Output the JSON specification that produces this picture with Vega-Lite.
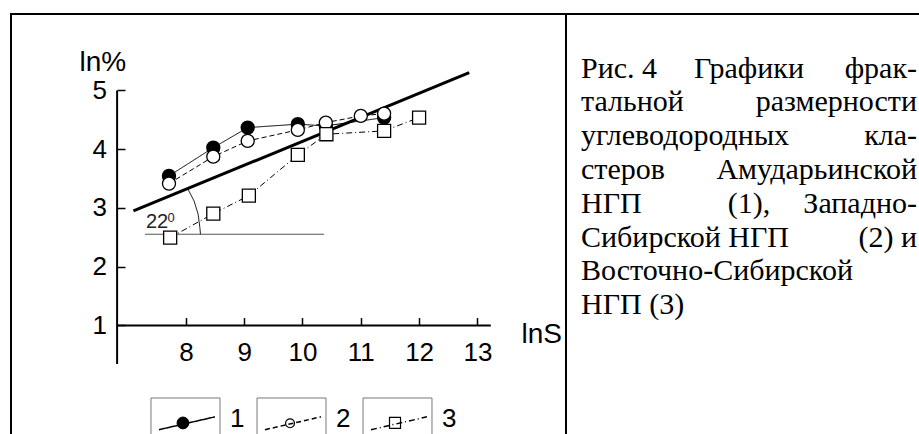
{
  "$schema": "https://vega.github.io/schema/vega-lite/v6.json",
  "padding": {"left": 10, "top": 13, "right": 0, "bottom": 0},
  "spacing": 0,
  "bounds": "flush",
  "background": "white",
  "config": {
    "font": "Liberation Sans",
    "view": {"stroke": "black", "strokeWidth": 2},
    "axis": {"labelColor": "black", "titleColor": "black", "tickColor": "black", "grid": false, "domain": false, "labelFont": "Liberation Sans", "titleFont": "Liberation Sans", "titleFontWeight": "normal"}
  },
  "datasets": {
    "obs": [
      {"series": "1", "x": 7.71, "y": 3.545}, {"series": "1", "x": 8.47, "y": 4.026}, {"series": "1", "x": 9.06, "y": 4.367},
      {"series": "1", "x": 9.92, "y": 4.425}, {"series": "1", "x": 10.40, "y": 4.396}, {"series": "1", "x": 11.40, "y": 4.537},
      {"series": "2", "x": 7.71, "y": 3.414}, {"series": "2", "x": 8.47, "y": 3.873}, {"series": "2", "x": 9.06, "y": 4.140},
      {"series": "2", "x": 9.92, "y": 4.328}, {"series": "2", "x": 10.40, "y": 4.452}, {"series": "2", "x": 11.00, "y": 4.566},
      {"series": "2", "x": 11.40, "y": 4.605},
      {"series": "3", "x": 7.73, "y": 2.494}, {"series": "3", "x": 8.47, "y": 2.903}, {"series": "3", "x": 9.08, "y": 3.209},
      {"series": "3", "x": 9.92, "y": 3.902}, {"series": "3", "x": 10.41, "y": 4.254}, {"series": "3", "x": 11.40, "y": 4.311},
      {"series": "3", "x": 12.00, "y": 4.537}
    ],
    "fit": [{"x": 7.10, "y": 2.949}, {"x": 12.86, "y": 5.303}],
    "arc": [{"x": 8.03, "y": 3.33}, {"x": 8.14, "y": 3.119}, {"x": 8.21, "y": 2.893}, {"x": 8.24, "y": 2.665}, {"x": 8.25, "y": 2.552}],
    "caption": [
      {"line": 1, "part": "start", "text": "Рис. 4"}, {"line": 1, "part": "middle", "text": "Графики"}, {"line": 1, "part": "end", "text": "фрак-"},
      {"line": 2, "part": "start", "text": "тальной"}, {"line": 2, "part": "end", "text": "размерности"},
      {"line": 3, "part": "start", "text": "углеводородных"}, {"line": 3, "part": "end", "text": "кла-"},
      {"line": 4, "part": "start", "text": "стеров"}, {"line": 4, "part": "end", "text": "Амударьинской"},
      {"line": 5, "part": "start", "text": "НГП"}, {"line": 5, "part": "middle", "text": "(1),"}, {"line": 5, "part": "end", "text": "Западно-"},
      {"line": 6, "part": "start", "text": "Сибирской НГП"}, {"line": 6, "part": "end", "text": "(2) и"},
      {"line": 7, "part": "start", "text": "Восточно-Сибирской"},
      {"line": 8, "part": "start", "text": "НГП (3)"}
    ]
  },
  "hconcat": [
    {
      "width": 555,
      "height": 429,
      "resolve": {"legend": {"strokeDash": "independent"}},
      "layer": [
        {
          "data": {"values": [{}]},
          "mark": {"type": "rule", "stroke": "black", "strokeWidth": 2},
          "encoding": {
            "x": {"datum": 6.82, "type": "quantitative", "scale": {"domain": [5, 14.52], "nice": false, "zero": false}},
            "y": {"datum": 5, "type": "quantitative", "scale": {"domain": [-1, 6.3], "nice": false, "zero": false}},
            "y2": {"datum": 0.345}
          }
        },
        {
          "data": {"values": [{}]},
          "mark": {"type": "rule", "stroke": "black", "strokeWidth": 2},
          "encoding": {
            "x": {"datum": 6.82, "type": "quantitative", "scale": {"domain": [5, 14.52], "nice": false, "zero": false}},
            "x2": {"datum": 13.23},
            "y": {"datum": 1, "type": "quantitative", "scale": {"domain": [-1, 6.3], "nice": false, "zero": false}}
          }
        },
        {
          "data": {"values": [{}]},
          "mark": {"type": "rule", "stroke": "#555", "strokeWidth": 1},
          "encoding": {
            "x": {"datum": 7.30, "type": "quantitative", "scale": {"domain": [5, 14.52], "nice": false, "zero": false}},
            "x2": {"datum": 10.37},
            "y": {"datum": 2.552, "type": "quantitative", "scale": {"domain": [-1, 6.3], "nice": false, "zero": false}}
          }
        },
        {
          "data": {"name": "arc"},
          "mark": {"type": "line", "stroke": "#222", "strokeWidth": 1},
          "encoding": {
            "x": {"field": "x", "type": "quantitative", "scale": {"domain": [5, 14.52], "nice": false, "zero": false}},
            "y": {"field": "y", "type": "quantitative", "scale": {"domain": [-1, 6.3], "nice": false, "zero": false}}
          }
        },
        {
          "data": {"values": [{}]},
          "mark": {"type": "text", "align": "left", "baseline": "alphabetic", "fontSize": 20, "color": "#222", "font": "Liberation Sans"},
          "encoding": {
            "x": {"datum": 7.314, "type": "quantitative", "scale": {"domain": [5, 14.52], "nice": false, "zero": false}},
            "y": {"datum": 2.665, "type": "quantitative", "scale": {"domain": [-1, 6.3], "nice": false, "zero": false}},
            "text": {"value": "22"}
          }
        },
        {
          "data": {"values": [{}]},
          "mark": {"type": "text", "align": "left", "baseline": "alphabetic", "fontSize": 13, "color": "#222", "font": "Liberation Sans"},
          "encoding": {
            "x": {"datum": 7.686, "type": "quantitative", "scale": {"domain": [5, 14.52], "nice": false, "zero": false}},
            "y": {"datum": 2.767, "type": "quantitative", "scale": {"domain": [-1, 6.3], "nice": false, "zero": false}},
            "text": {"value": "0"}
          }
        },
        {
          "data": {"name": "fit"},
          "mark": {"type": "line", "stroke": "black", "strokeWidth": 3},
          "encoding": {
            "x": {"field": "x", "type": "quantitative", "scale": {"domain": [5, 14.52], "nice": false, "zero": false}},
            "y": {"field": "y", "type": "quantitative", "scale": {"domain": [-1, 6.3], "nice": false, "zero": false}}
          }
        },
        {
          "data": {"name": "obs"},
          "mark": {"type": "line", "stroke": "black", "strokeWidth": 1},
          "encoding": {
            "x": {"field": "x", "type": "quantitative", "scale": {"domain": [5, 14.52], "nice": false, "zero": false}},
            "y": {"field": "y", "type": "quantitative", "scale": {"domain": [-1, 6.3], "nice": false, "zero": false}},
            "strokeDash": {
              "field": "series", "type": "nominal",
              "scale": {"domain": ["1", "2", "3"], "range": [[1, 0], [5, 3], [6, 3, 1, 3]]},
              "legend": {
                "title": null, "orient": "none", "legendX": 140, "legendY": 384, "direction": "horizontal", "zindex": -1,
                "symbolSize": 1521, "symbolStrokeWidth": 1.5, "symbolStrokeColor": "black", "symbolOffset": 14, "labelOffset": 24,
                "labelFontSize": 26, "labelFont": "Liberation Sans", "labelColor": "black", "columnPadding": 12, "padding": 0,
                "symbolType": "M-1.36,0.56L1.51,-0.1"
              }
            }
          }
        },
        {
          "data": {"name": "obs"},
          "mark": {"type": "point", "filled": true, "stroke": "black", "strokeWidth": 1.3, "size": 170, "opacity": 1},
          "encoding": {
            "x": {
              "field": "x", "type": "quantitative",
              "scale": {"domain": [5, 14.52], "nice": false, "zero": false},
              "axis": {"values": [8, 9, 10, 11, 12, 13], "format": "d", "offset": -117.5, "tickSize": -8, "tickWidth": 1.5, "labelFontSize": 26, "labelPadding": 21.5,
                "title": "lnS", "titleX": 510, "titleY": 17, "titleAlign": "left", "titleBaseline": "alphabetic", "titleAngle": 0, "titleFontSize": 28}
            },
            "y": {
              "field": "y", "type": "quantitative",
              "scale": {"domain": [-1, 6.3], "nice": false, "zero": false},
              "axis": {"values": [1, 2, 3, 4, 5], "format": "d", "offset": -106, "tickSize": -8, "tickWidth": 1.5, "labelFontSize": 26, "labelPadding": 18.5,
                "title": "ln%", "titleX": -38, "titleY": 56.5, "titleAlign": "left", "titleBaseline": "alphabetic", "titleAngle": 0, "titleFontSize": 28}
            },
            "fill": {"field": "series", "type": "nominal", "scale": {"domain": ["1", "2", "3"], "range": ["black", "white", "white"]}, "legend": null},
            "shape": {"field": "series", "type": "nominal", "scale": {"domain": ["1", "2", "3"], "range": ["circle", "circle", "square"]}, "legend": null}
          }
        },
        {
          "data": {"values": [{}]},
          "mark": {"type": "rect", "fill": "transparent", "stroke": "#777", "strokeWidth": 1},
          "encoding": {
            "x": {"datum": 7.401, "type": "quantitative", "scale": {"domain": [5, 14.52], "nice": false, "zero": false}},
            "x2": {"datum": 8.585},
            "y": {"datum": -0.234, "type": "quantitative", "scale": {"domain": [-1, 6.3], "nice": false, "zero": false}},
            "y2": {"datum": -1.136}
          }
        },
        {
          "data": {"values": [{}]},
          "mark": {"type": "rect", "fill": "transparent", "stroke": "#777", "strokeWidth": 1},
          "encoding": {
            "x": {"datum": 9.22, "type": "quantitative", "scale": {"domain": [5, 14.52], "nice": false, "zero": false}},
            "x2": {"datum": 10.403},
            "y": {"datum": -0.234, "type": "quantitative", "scale": {"domain": [-1, 6.3], "nice": false, "zero": false}},
            "y2": {"datum": -1.136}
          }
        },
        {
          "data": {"values": [{}]},
          "mark": {"type": "rect", "fill": "transparent", "stroke": "#777", "strokeWidth": 1},
          "encoding": {
            "x": {"datum": 11.038, "type": "quantitative", "scale": {"domain": [5, 14.52], "nice": false, "zero": false}},
            "x2": {"datum": 12.221},
            "y": {"datum": -0.234, "type": "quantitative", "scale": {"domain": [-1, 6.3], "nice": false, "zero": false}},
            "y2": {"datum": -1.136}
          }
        },
        {
          "data": {"values": [{}]},
          "mark": {"type": "point", "shape": "circle", "filled": true, "fill": "black", "stroke": "black", "strokeWidth": 1, "size": 140, "opacity": 1},
          "encoding": {
            "x": {"datum": 7.95, "type": "quantitative", "scale": {"domain": [5, 14.52], "nice": false, "zero": false}},
            "y": {"datum": -0.659, "type": "quantitative", "scale": {"domain": [-1, 6.3], "nice": false, "zero": false}}
          }
        },
        {
          "data": {"values": [{}]},
          "mark": {"type": "point", "shape": "circle", "filled": true, "fill": "white", "stroke": "black", "strokeWidth": 1.2, "size": 80, "opacity": 1},
          "encoding": {
            "x": {"datum": 9.786, "type": "quantitative", "scale": {"domain": [5, 14.52], "nice": false, "zero": false}},
            "y": {"datum": -0.664, "type": "quantitative", "scale": {"domain": [-1, 6.3], "nice": false, "zero": false}}
          }
        },
        {
          "data": {"values": [{}]},
          "mark": {"type": "point", "shape": "square", "filled": true, "fill": "white", "stroke": "black", "strokeWidth": 1.2, "size": 121, "opacity": 1},
          "encoding": {
            "x": {"datum": 11.587, "type": "quantitative", "scale": {"domain": [5, 14.52], "nice": false, "zero": false}},
            "y": {"datum": -0.659, "type": "quantitative", "scale": {"domain": [-1, 6.3], "nice": false, "zero": false}}
          }
        }
      ]
    },
    {
      "width": 360,
      "height": 429,
      "data": {"name": "caption"},
      "encoding": {
        "x": {"field": "part", "type": "nominal", "scale": {"type": "point", "domain": ["start", "middle", "end"], "range": [15, 351], "padding": 0}, "axis": null},
        "y": {"field": "line", "type": "quantitative", "scale": {"domain": [-0.885, 11.81], "reverse": true, "nice": false, "zero": false}, "axis": null},
        "text": {"field": "text", "type": "nominal"}
      },
      "layer": [
        {"transform": [{"filter": "datum.part === 'start'"}], "mark": {"type": "text", "align": "left", "baseline": "alphabetic", "font": "Liberation Serif", "fontSize": 30, "color": "black"}},
        {"transform": [{"filter": "datum.part === 'middle'"}], "mark": {"type": "text", "align": "center", "baseline": "alphabetic", "font": "Liberation Serif", "fontSize": 30, "color": "black"}},
        {"transform": [{"filter": "datum.part === 'end'"}], "mark": {"type": "text", "align": "right", "baseline": "alphabetic", "font": "Liberation Serif", "fontSize": 30, "color": "black"}}
      ]
    }
  ]
}
